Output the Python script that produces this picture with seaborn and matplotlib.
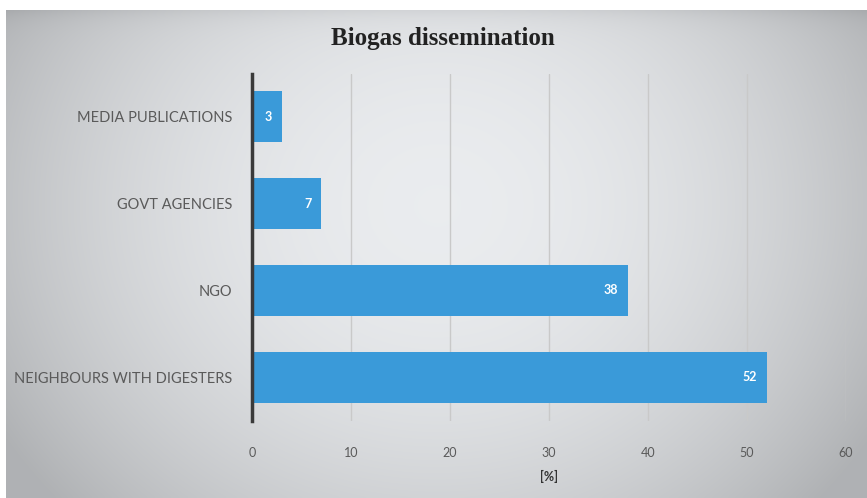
import numpy as np
import pandas as pd
import matplotlib
matplotlib.use("Agg")
import matplotlib.pyplot as plt
import seaborn as sns

# Sources of information on biogas
categories = ["MEDIA PUBLICATIONS", "GOVT AGENCIES", "NGO", "NEIGHBOURS WITH DIGESTERS"]
values = [3, 7, 38, 52]
x_ticks = [0, 10, 20, 30, 40, 50, 60]

title = "Biogas dissemination"
x_label = "[%]"

bar_color = "#3a9ad9"
label_gray = "#5a5a5a"

sns.set_theme(style="white")
plt.rcParams["font.family"] = ["Lato", "DejaVu Sans"]

W, H = 867, 498
fig = plt.figure(figsize=(W / 100, H / 100), dpi=100)
fig.patch.set_facecolor("white")

# Soft radial grey backdrop panel
bg = fig.add_axes([6 / W, 0, (W - 6) / W, (H - 10) / H])
ny, nx = 200, 360
yy, xx = np.mgrid[0:ny, 0:nx]
cx, cy = nx * 0.50, ny * 0.40
r2 = ((xx - cx) / (nx * 0.55)) ** 2 + ((yy - cy) / (ny * 0.85)) ** 2
shade = np.clip(0.93 - 0.20 * r2, 0.70, 0.94)
rgb = np.dstack([shade - 0.012, shade - 0.004, shade + 0.006])
top_band = np.exp(-yy / 4.0) * 0.05
rgb = np.clip(rgb - top_band[..., None], 0, 1)
bg.imshow(rgb, aspect="auto", interpolation="bicubic", extent=[0, 1, 0, 1])
bg.set_axis_off()

ax = fig.add_axes([252 / W, 1 - 420.5 / H, (846 - 252) / W, (420.5 - 73.5) / H])
ax.set_facecolor("none")

df = pd.DataFrame({"source": categories, "share": values})
sns.barplot(data=df, y="source", x="share", orient="h", color=bar_color,
            saturation=1, width=0.59, linewidth=0, edgecolor="none",
            ax=ax, zorder=3)

for i, v in enumerate(values):
    ax.annotate(str(v), xy=(v, i), xytext=(-7, 0), textcoords="offset points",
                ha="right", va="center", color="white", fontsize=9,
                fontweight="bold", zorder=4)

ax.set_xlim(0, 60)
ax.set_xticks(x_ticks)
ax.set_xticklabels([str(t) for t in x_ticks])
ax.xaxis.grid(True, color="#c9c9c9", linewidth=1.0, zorder=0)
ax.yaxis.grid(False)
ax.set_axisbelow(True)

for side in ["top", "right", "bottom"]:
    ax.spines[side].set_visible(False)
ax.spines["left"].set_color("#3a3a3a")
ax.spines["left"].set_linewidth(2.5)
ax.spines["left"].set_zorder(5)

ax.tick_params(axis="y", length=0, pad=14, labelsize=10.5, labelcolor=label_gray)
ax.tick_params(axis="x", length=0, pad=19, labelsize=9, labelcolor=label_gray)

ax.set_ylabel("")
ax.set_xlabel(x_label, fontsize=9, fontweight="bold", color="#333333", labelpad=8)

fig.text(443 / W, 1 - 38 / H, title, ha="center", va="center",
         fontsize=18, fontweight="bold", color="#222222",
         family=["Liberation Serif", "DejaVu Serif"])

fig.savefig("out.png", dpi=100, facecolor=fig.get_facecolor())
